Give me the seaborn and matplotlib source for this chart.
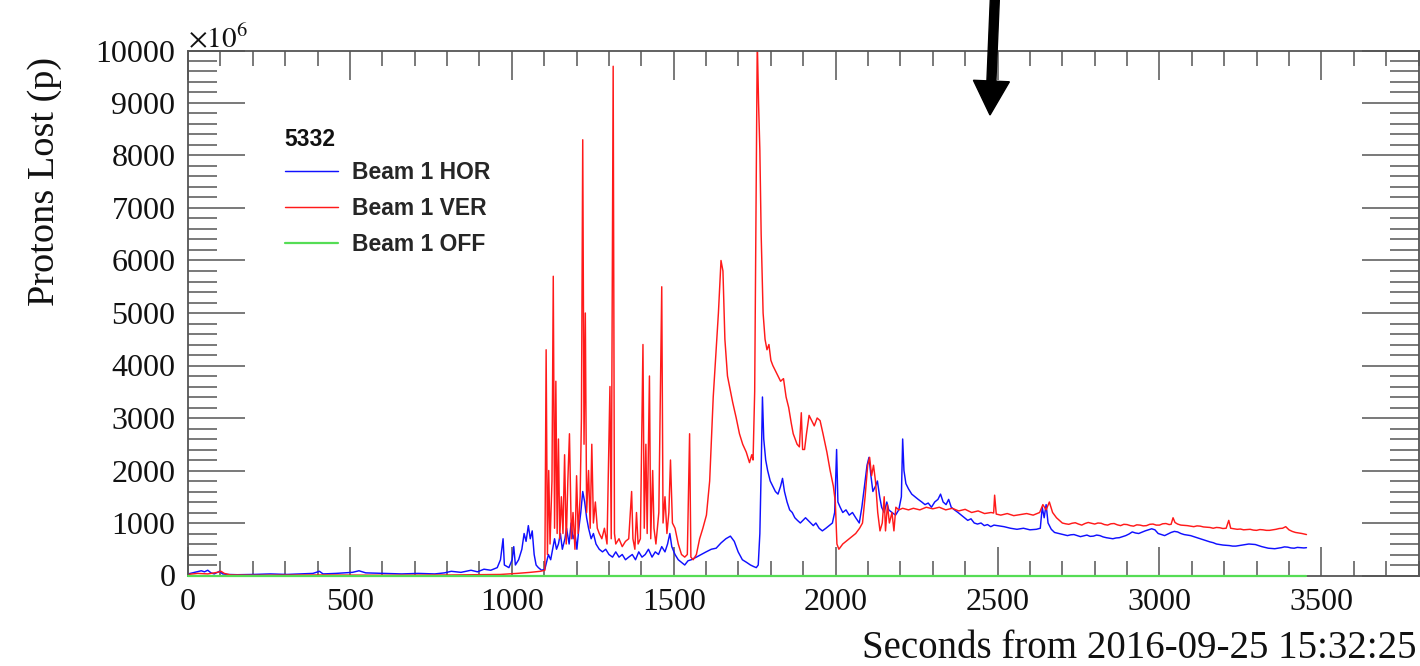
import numpy as np
import pandas as pd
import matplotlib
matplotlib.use("Agg")
import matplotlib.pyplot as plt
from matplotlib.ticker import MultipleLocator
from matplotlib.patches import FancyArrow
from matplotlib.transforms import IdentityTransform
from matplotlib.font_manager import FontProperties
import seaborn as sns

# ---- data: seconds from 2016-09-25 15:32:25 vs protons lost (x1e6) ----
t_ver = [0, 30, 61, 91, 102, 112, 132, 203, 406, 610, 813, 965, 1016, 1057, 1088, 1102,
         1106, 1110, 1114, 1118, 1124, 1128, 1132, 1136, 1140, 1144, 1148, 1153, 1158, 1163,
         1168, 1173, 1178, 1184, 1189, 1195, 1200, 1205, 1211, 1215, 1219, 1223, 1227, 1231,
         1237, 1242, 1247, 1252, 1258, 1264, 1270, 1278, 1286, 1294, 1303, 1307, 1313, 1317,
         1321, 1331, 1341, 1351, 1361, 1370, 1374, 1380, 1385, 1390, 1397, 1405, 1409, 1414,
         1418, 1425, 1429, 1435, 1439, 1445, 1454, 1463, 1467, 1473, 1479, 1485, 1490, 1496,
         1504, 1514, 1524, 1534, 1542, 1549, 1553, 1560, 1570, 1580, 1590, 1601, 1611, 1622,
         1631, 1638, 1646, 1652, 1658, 1666, 1682, 1693, 1703, 1713, 1724, 1734, 1741, 1745,
         1750, 1754, 1758, 1762, 1766, 1770, 1776, 1782, 1788, 1794, 1800, 1806, 1814, 1822,
         1830, 1839, 1847, 1855, 1863, 1869, 1875, 1881, 1888, 1894, 1898, 1904, 1910, 1918,
         1926, 1934, 1943, 1952, 1961, 1973, 1983, 1993, 1999, 2004, 2010, 2022, 2032, 2042,
         2052, 2062, 2074, 2083, 2091, 2099, 2105, 2111, 2117, 2123, 2130, 2137, 2144, 2150,
         2154, 2160, 2166, 2174, 2180, 2186, 2195, 2207, 2225, 2240, 2260, 2280, 2300, 2320,
         2340, 2360, 2380, 2400, 2420, 2440, 2460, 2480, 2488, 2491, 2496, 2510, 2530, 2550,
         2570, 2590, 2610, 2630, 2640, 2650, 2660, 2670, 2682,
         2700, 2710, 2720, 2730, 2740, 2750, 2760, 2770, 2780, 2790,
         2800, 2810, 2820, 2830, 2840, 2850, 2860, 2870, 2880, 2890,
         2900, 2910, 2920, 2930, 2940, 2950, 2960, 2970, 2980, 2990,
         3000, 3010, 3020, 3030, 3036, 3042, 3048, 3056, 3066, 3076,
         3086, 3096, 3106, 3116, 3126, 3136, 3146, 3156, 3166, 3176,
         3186, 3196, 3206, 3214, 3220, 3230, 3240, 3250, 3260, 3270,
         3280, 3290, 3300, 3310, 3320, 3330, 3340, 3350, 3360, 3370,
         3380, 3390, 3400, 3410, 3420, 3430, 3440, 3454]
ver = [20, 40, 30, 60, 80, 40, 10, 5, 10, 5, 10, 20, 40, 60, 80, 100,
       4300, 400, 2000, 600, 1800, 5700, 900, 3700, 800, 2600, 700, 1500, 800, 2300,
       600, 1800, 2700, 700, 1200, 500, 1900, 800, 1500, 3000, 8300, 2500, 5000, 1200,
       2000, 900, 2500, 1000, 1400, 900, 800, 700, 900, 600, 3600, 700, 9700, 800,
       600, 700, 550, 650, 700, 1600, 700, 500, 1200, 600, 700, 4400, 900, 2500,
       800, 3800, 700, 2000, 900, 600, 1200, 5500, 1000, 1500, 800, 1200, 2200, 1000,
       900, 600, 400, 350, 400, 2700, 350, 300, 400, 700, 900, 1150, 1800, 3400,
       4300, 5000, 6000, 5800, 4500, 3800, 3300, 3000, 2700, 2500, 2350, 2150, 2300, 2200,
       3500, 7000, 10200, 9000, 8100, 6500, 5000, 4500, 4300, 4400, 4100, 4000, 3900, 3800,
       3700, 3750, 3400, 3200, 2900, 2700, 2600, 2500, 2450, 3100, 2400, 2400, 2700, 3050,
       2950, 2850, 3000, 2950, 2700, 2350, 2000, 1700, 1400, 600, 500, 600, 650, 700,
       750, 800, 900, 1000, 1500, 2100, 2250, 1900, 2100, 1800, 1200, 850, 1000, 1500,
       850, 1350, 1000, 1200, 850, 1300, 1250, 1280, 1250, 1280, 1250, 1300, 1270, 1300,
       1250, 1280, 1230, 1260, 1200, 1230, 1180, 1200, 1190, 1530, 1170, 1150, 1180, 1140,
       1160, 1180, 1150, 1200, 1350, 1250, 1400, 1200, 1100,
       1000, 985, 975, 995, 1005, 980, 960, 990, 1010, 995,
       980, 1000, 995, 970, 960, 985, 990, 965, 950, 975,
       970, 950, 940, 965, 960, 945, 950, 975, 980, 960,
       960, 985, 990, 970, 975, 1100, 1010, 980, 960, 955,
       950, 940, 930, 945, 940, 925, 920, 915, 900, 915,
       910, 895, 900, 1050, 900, 890, 880, 885, 870, 875,
       880, 865, 860, 875, 870, 860, 860, 870, 880, 895,
       900, 930, 870, 840, 820, 810, 800, 780]

t_hor = [0, 20, 41, 51, 61, 71, 81, 97, 107, 122, 152, 203, 254, 305, 386, 406, 417, 457,
         508, 528, 549, 610, 660, 711, 762, 792, 813, 843, 874, 894, 914, 935, 955, 965,
         973, 977, 991, 1001, 1006, 1011, 1021, 1031, 1038, 1044, 1051, 1057, 1063, 1069,
         1075, 1082, 1092, 1102, 1113, 1120, 1126, 1132, 1138, 1144, 1150, 1156, 1164, 1169,
         1177, 1183, 1189, 1195, 1201, 1207, 1213, 1219, 1225, 1231, 1237, 1245, 1252, 1260,
         1270, 1280, 1290, 1300, 1311, 1321, 1331, 1341, 1351, 1361, 1372, 1382, 1392, 1402,
         1412, 1422, 1433, 1443, 1453, 1463, 1473, 1481, 1488, 1494, 1504, 1514, 1524, 1534,
         1544, 1554, 1570, 1585, 1600, 1616, 1631, 1646, 1661, 1675, 1687, 1699, 1712, 1725,
         1737, 1747, 1755, 1761, 1766, 1770, 1774, 1778, 1784, 1790, 1798, 1806, 1814, 1822,
         1830, 1836, 1842, 1850, 1858, 1866, 1874, 1882, 1891, 1899, 1907, 1915, 1923, 1931,
         1939, 1949, 1959, 1970, 1980, 1990, 1997, 2003, 2007, 2014, 2022, 2032, 2042, 2052,
         2062, 2073, 2081, 2089, 2097, 2103, 2109, 2115, 2123, 2129, 2136, 2142, 2150, 2158,
         2164, 2174, 2185, 2195, 2203, 2207, 2211, 2217, 2225, 2235, 2245, 2255, 2266, 2276,
         2286, 2296, 2306, 2316, 2324, 2332, 2341, 2349, 2357, 2367, 2378, 2388, 2398, 2408,
         2418, 2428, 2438, 2449, 2459, 2469, 2479, 2489, 2499, 2520, 2540, 2560, 2580, 2600,
         2620, 2632, 2638, 2644, 2650, 2656, 2666, 2676, 2696,
         2716, 2726, 2736, 2746, 2756, 2766, 2776, 2786, 2796, 2806,
         2816, 2826, 2836, 2846, 2856, 2866, 2876, 2886, 2896, 2906,
         2916, 2926, 2936, 2946, 2956, 2966, 2976, 2986, 2996, 3006,
         3016, 3026, 3036, 3046, 3056, 3066, 3076, 3086, 3096, 3106,
         3116, 3126, 3136, 3146, 3156, 3166, 3176, 3186, 3196, 3206,
         3216, 3226, 3236, 3246, 3256, 3266, 3276, 3286, 3296, 3306,
         3316, 3326, 3336, 3346, 3356, 3366, 3376, 3386, 3396, 3406,
         3416, 3426, 3436, 3446, 3454]
hor = [30, 60, 90, 70, 100, 50, 30, 80, 30, 20, 15, 20, 30, 20, 40, 80, 30, 40,
       60, 90, 50, 40, 30, 40, 30, 50, 80, 60, 100, 70, 120, 100, 150, 300,
       700, 200, 150, 300, 550, 200, 300, 500, 800, 650, 950, 700, 850, 400,
       200, 150, 100, 120, 400, 300, 500, 700, 500, 600, 800, 500, 700, 900,
       600, 1000, 700, 800, 500, 900, 1200, 1600, 1400, 1100, 900, 700, 800, 600,
       500, 450, 500, 400, 350, 450, 350, 400, 300, 350, 400, 300, 450, 350,
       400, 500, 350, 450, 400, 550, 450, 600, 800, 550, 400, 300, 250, 200,
       280, 300, 350, 400, 450, 500, 520, 620, 700, 750, 650, 450, 300, 250,
       200, 170, 150, 200, 800, 2000, 3400, 2600, 2200, 2000, 1800, 1700, 1600, 1550,
       1700, 1850, 1600, 1400, 1250, 1200, 1100, 1050, 1000, 1050, 1100, 1050, 1000, 950,
       1000, 900, 850, 900, 950, 1000, 1200, 2400, 1400, 1300, 1200, 1250, 1150, 1200,
       1100, 1000, 1300, 1700, 2100, 2250, 1900, 1600, 1700, 1800, 1500, 1300, 1200, 1400,
       1250, 1200, 1150, 1250, 1500, 2600, 2000, 1750, 1650, 1550, 1500, 1450, 1400, 1350,
       1380, 1300, 1400, 1450, 1550, 1400, 1350, 1450, 1300, 1250, 1200, 1150, 1100, 1050,
       1080, 1000, 980, 1000, 950, 970, 930, 960, 950, 930, 900, 880, 900, 870,
       880, 900, 1300, 1100, 1350, 1000, 880, 820, 790,
       760, 775, 780, 760, 740, 755, 770, 745, 750, 770,
       760, 735, 720, 710, 700, 715, 720, 740, 760, 790,
       830, 810, 800, 825, 850, 870, 890, 870, 800, 780,
       760, 790, 820, 840, 830, 800, 780, 770, 760, 740,
       720, 700, 680, 660, 640, 625, 600, 590, 580, 575,
       570, 560, 560, 570, 580, 590, 600, 595, 590, 570,
       550, 535, 520, 515, 510, 520, 530, 545, 540, 525,
       520, 535, 530, 525, 530]

t_off = [0, 500, 1000, 1500, 2000, 2500, 3000, 3454]
off = [0, 0, 0, 0, 0, 0, 0, 0]

series_names = ["Beam 1 HOR", "Beam 1 VER", "Beam 1 OFF"]
series_colors = {"Beam 1 HOR": "#1010ff", "Beam 1 VER": "#ff1a1a", "Beam 1 OFF": "#55dd55"}
fill_name = "5332"
x_ticks = [0, 500, 1000, 1500, 2000, 2500, 3000, 3500]
y_ticks = [0, 1000, 2000, 3000, 4000, 5000, 6000, 7000, 8000, 9000, 10000]

df = pd.concat([
    pd.DataFrame({"t": t_hor, "p": hor, "series": series_names[0]}),
    pd.DataFrame({"t": t_ver, "p": ver, "series": series_names[1]}),
    pd.DataFrame({"t": t_off, "p": off, "series": series_names[2]}),
], ignore_index=True)

sns.set_style("ticks")
plt.rcParams["font.family"] = ["Liberation Serif", "DejaVu Serif"]
plt.rcParams["mathtext.fontset"] = "stix"

W, H = 1420, 666
fig = plt.figure(figsize=(W / 100, H / 100), dpi=100)
ax = fig.add_axes([188 / W, 90.5 / H, (1418.5 - 188) / W, (575.5 - 50.5) / H])

for name in series_names:
    sub = df[df["series"] == name]
    is_off = name == "Beam 1 OFF"
    sns.lineplot(data=sub, x="t", y="p", ax=ax, color=series_colors[name],
                 lw=1.6 if is_off else 1.05, estimator=None, sort=False, label=name,
                 legend=False, zorder=3 if is_off else 2, clip_on=not is_off)

ax.set_xlim(0, 3800)
ax.set_ylim(0, 10000)
ax.set_xticks(x_ticks)
ax.set_yticks(y_ticks)
ax.xaxis.set_minor_locator(MultipleLocator(100))
ax.yaxis.set_minor_locator(MultipleLocator(200))
ax.set_xlabel("")
ax.set_ylabel("")

frame_col = "#555555"
for sp in ax.spines.values():
    sp.set_visible(True)
    sp.set_color(frame_col)
    sp.set_linewidth(1.3)

ax.tick_params(axis="both", which="both", direction="in", top=True, right=True,
               color=frame_col, width=1.1, labelsize=23, labelcolor="#111111")
ax.tick_params(axis="x", which="major", length=21, pad=9)
ax.tick_params(axis="x", which="minor", length=11)
ax.tick_params(axis="y", which="major", length=41, pad=9)
ax.tick_params(axis="y", which="minor", length=21)

# axis titles, aligned to the axis ends
fig.text(1417 / W, 1 - 648 / H, "Seconds from 2016-09-25 15:32:25", ha="right",
         va="center", fontsize=28, color="#111111")
fig.text(45 / W, 1 - 57 / H, "Protons Lost (p)", rotation=90, ha="center", va="top",
         fontsize=27.5, color="#111111")
fig.text(188 / W, 1 - 47 / H, r"$\times10^{6}$", ha="left", va="baseline",
         fontsize=21, color="#111111")

# legend: fill number header plus one row per beam series
lab_font = FontProperties(family="Liberation Sans", weight="bold", size=16.5)
fig.text(284 / W, 1 - 140 / H, fill_name, ha="left", va="center",
         fontproperties=lab_font, color="#111111")
handles, labels = ax.get_legend_handles_labels()
ax.legend(handles, labels, prop=lab_font, frameon=False, loc="upper left",
          bbox_to_anchor=(285 / W, 1 - 161 / H), bbox_transform=fig.transFigure,
          borderpad=0, borderaxespad=0, handlelength=2.3, handletextpad=0.62,
          labelspacing=0.56)

# marker arrow at the top
arrow = FancyArrow(995, H + 5, -5, -120, width=9, head_width=36, head_length=34,
                   length_includes_head=True, color="black", transform=IdentityTransform(),
                   clip_on=False)
fig.add_artist(arrow)

fig.savefig("out.png", dpi=100)
